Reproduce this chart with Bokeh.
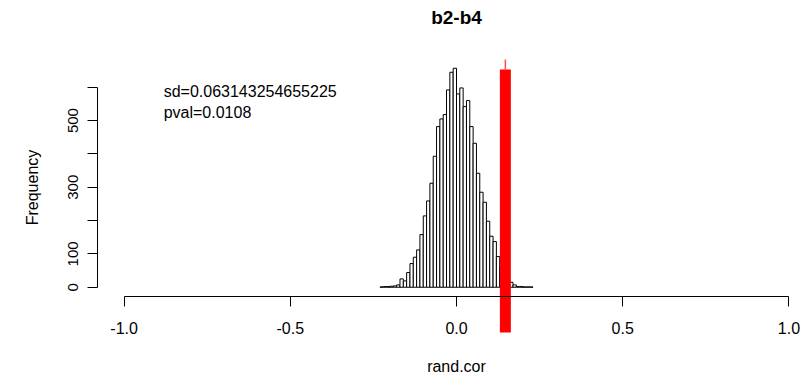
import numpy as np
from bokeh.plotting import figure
from bokeh.models import LinearAxis, FixedTicker, PrintfTickFormatter, Range1d
from bokeh.core.properties import value
from bokeh.embed import file_html
from bokeh.resources import INLINE

# Histogram of randomised correlations (bin width 0.01, starting at -0.23)
counts = [1, 2, 2, 3, 4, 7, 25, 19, 44, 71,
          90, 112, 158, 214, 259, 312, 393, 482, 505, 518,
          592, 645, 657, 580, 598, 542, 560, 482, 432, 342,
          285, 255, 198, 153, 137, 92, 62, 40, 25, 15,
          7, 2, 2, 1, 1, 1]
break_start = -0.23
bin_width = 0.01

# observed correlation and the summary annotations
obs_cor = 0.147
title_text = "b2-b4"
sd_text = "sd=0.063143254655225"
pval_text = "pval=0.0108"
x_label = "rand.cor"
y_label = "Frequency"

x_ticks = [-1.0, -0.5, 0.0, 0.5, 1.0]
y_ticks = [0, 100, 200, 300, 400, 500, 600]
y_tick_labels = ["0", "100", "", "300", "", "500", ""]

breaks = np.round(break_start + bin_width * np.arange(len(counts) + 1), 2)
left = breaks[:-1]
right = breaks[1:]

# R-like user coordinates: xlim (-1, 1), ylim (0, max) padded by 4 %
xlim = (-1.0, 1.0)
ylim = (0.0, float(max(counts)))
pad_x = 0.04 * (xlim[1] - xlim[0])
pad_y = 0.04 * (ylim[1] - ylim[0])
usr_x = (xlim[0] - pad_x, xlim[1] + pad_x)
usr_y = (ylim[0] - pad_y, ylim[1] + pad_y)

# pixel box of the plot region inside the 802 x 379 canvas
W, H = 802, 379
reg_left, reg_right = 97.0, 815.0
reg_top, reg_bottom = 59.0, 295.5
sx = (reg_right - reg_left) / (usr_x[1] - usr_x[0])
sy = (reg_bottom - reg_top) / (usr_y[1] - usr_y[0])
x_range = Range1d(usr_x[0] - reg_left / sx, usr_x[0] + (W - reg_left) / sx)
y_range = Range1d(usr_y[0] - (H - reg_bottom) / sy, usr_y[1] + reg_top / sy)

FONT = "Liberation Sans"

p = figure(width=W, height=H, x_range=x_range, y_range=y_range,
           x_axis_type=None, y_axis_type=None, title=None,
           toolbar_location=None, output_backend="svg",
           min_border=0, min_border_left=0, min_border_right=0,
           min_border_top=0, min_border_bottom=0)
p.outline_line_color = None
p.background_fill_color = "white"
p.border_fill_color = "white"

# histogram bars
p.quad(left=left, right=right, bottom=0, top=counts,
       fill_color="white", line_color="black", line_width=1)

# observed value: thick red bar plus a thin red line up to the region top
red_bottom, red_top = -136.0, 653.0
p.segment(x0=[obs_cor], y0=[red_bottom], x1=[obs_cor], y1=[red_top],
          line_color="red", line_width=11)
p.segment(x0=[obs_cor], y0=[red_top], x1=[obs_cor], y1=[usr_y[1]],
          line_color="red", line_width=1.5, line_alpha=0.7)

# x axis along the bottom of the plot region
xaxis = LinearAxis(fixed_location=usr_y[0], bounds=xlim,
                   ticker=FixedTicker(ticks=x_ticks),
                   formatter=PrintfTickFormatter(format="%.1f"),
                   axis_label=x_label)
# y axis along the left of the plot region
yaxis = LinearAxis(fixed_location=usr_x[0], bounds=(y_ticks[0], y_ticks[-1]),
                   ticker=FixedTicker(ticks=y_ticks),
                   major_label_overrides={t: l for t, l in zip(y_ticks, y_tick_labels)},
                   major_label_orientation="vertical",
                   axis_label=y_label)

for ax in (xaxis, yaxis):
    ax.axis_line_color = "black"
    ax.axis_line_width = 1
    ax.major_tick_line_color = "black"
    ax.major_tick_in = 0
    ax.major_tick_out = 10
    ax.minor_tick_in = 0
    ax.minor_tick_out = 0
    ax.major_label_text_font = FONT
    ax.major_label_text_color = "black"
    ax.axis_label_text_font = FONT
    ax.axis_label_text_font_style = "normal"
    ax.axis_label_text_font_size = "16px"
    ax.axis_label_text_color = "black"

xaxis.major_label_text_font_size = "16px"
xaxis.major_label_standoff = 16
xaxis.axis_label_standoff = 20
yaxis.major_label_text_font_size = "15px"
yaxis.major_label_standoff = 9
yaxis.axis_label_standoff = 25

p.add_layout(xaxis, "below")
p.add_layout(yaxis, "left")

# title and annotations
p.text(x=[(xlim[0] + xlim[1]) / 2], y=[808], text=[title_text],
       text_font=value(FONT), text_font_size="19px", text_font_style="bold",
       text_align="center", text_baseline="alphabetic", text_color="black")
p.text(x=[-0.881, -0.881], y=[586, 524], text=[sd_text, pval_text],
       text_font=value(FONT), text_font_size="16px",
       text_align="left", text_baseline="alphabetic", text_color="black")

open("out.html", "w").write(file_html(p, INLINE))
